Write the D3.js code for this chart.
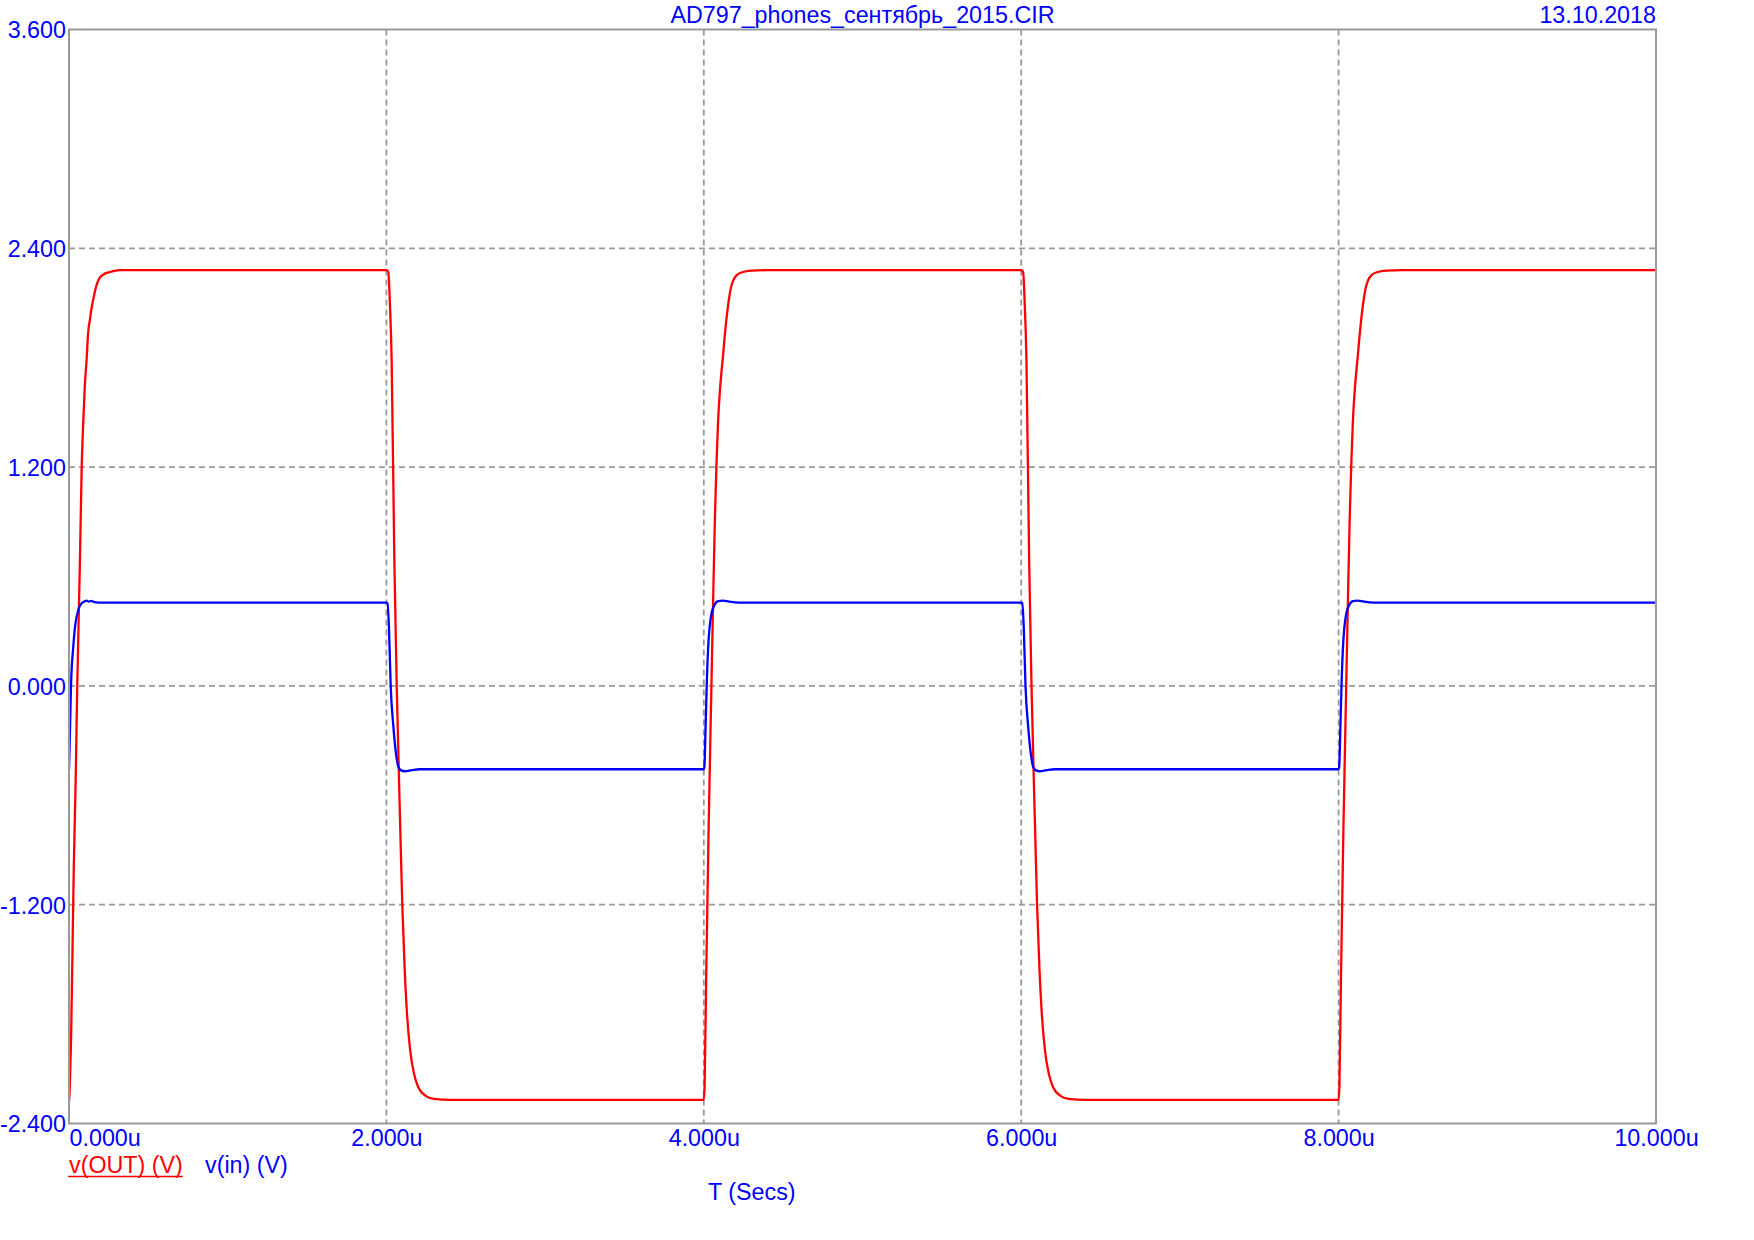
<!DOCTYPE html>
<html>
<head>
<meta charset="utf-8">
<script src="https://cdn.jsdelivr.net/npm/d3@7"></script>
<style>
  html, body { margin: 0; padding: 0; background: #fff; }
  svg { display: block; }
  text { font-family: "Liberation Sans", Arial, Helvetica, sans-serif; }
</style>
</head>
<body>
<svg id="chart" width="1754" height="1240"></svg>
<script>
// ---------- DATA ----------
const titleText = "AD797_phones_сентябрь_2015.CIR";
const dateText = "13.10.2018";
const xAxisTitle = "T (Secs)";
const seriesNames = ["v(OUT) (V)", "v(in) (V)"];
const seriesColors = ["#ff0000", "#0000ff"];

const xTicks = [0, 2, 4, 6, 8, 10];
const xTickLabels = ["0.000u", "2.000u", "4.000u", "6.000u", "8.000u", "10.000u"];
const yTicks = [-2.4, -1.2, 0, 1.2, 2.4, 3.6];
const yTickLabels = ["-2.400", "-1.200", "0.000", "1.200", "2.400", "3.600"];

// v(OUT): time in microseconds, voltage in volts
const outTime = [
  0, 0.005, 0.013, 0.03, 0.042, 0.052, 0.069, 0.08, 0.09, 0.1, 0.111, 0.12, 0.132, 0.142, 0.153, 0.165, 0.178, 0.195, 0.214, 0.26, 0.32,
  2.0, 2.012, 2.022, 2.033, 2.05, 2.065, 2.086, 2.10, 2.115, 2.13, 2.15, 2.175, 2.20, 2.25, 2.30, 2.40,
  4.0, 4.005, 4.015, 4.03, 4.048, 4.06, 4.07, 4.08, 4.09, 4.10, 4.11, 4.119, 4.13, 4.14, 4.155, 4.17, 4.186, 4.21, 4.247, 4.30, 4.40,
  6.0, 6.012, 6.022, 6.033, 6.05, 6.065, 6.086, 6.10, 6.115, 6.13, 6.15, 6.175, 6.20, 6.25, 6.30, 6.40,
  8.0, 8.005, 8.015, 8.03, 8.048, 8.06, 8.07, 8.08, 8.09, 8.10, 8.11, 8.119, 8.13, 8.14, 8.155, 8.17, 8.186, 8.21, 8.247, 8.30, 8.40,
  10.0
];
const outVolt = [
  -2.28, -2.20, -1.94, -1.00, -0.52, 0.00, 0.69, 1.20, 1.45, 1.65, 1.79, 1.93, 2.01, 2.07, 2.12, 2.17, 2.21, 2.24, 2.255, 2.27, 2.28,
  2.28, 2.27, 2.10, 1.79, 0.69, 0.00, -0.735, -1.20, -1.55, -1.80, -2.00, -2.13, -2.20, -2.25, -2.265, -2.27,
  -2.27, -2.20, -1.60, -0.80, 0.00, 0.52, 0.92, 1.22, 1.45, 1.60, 1.71, 1.79, 1.90, 1.99, 2.10, 2.18, 2.225, 2.255, 2.27, 2.277, 2.28,
  2.28, 2.27, 2.10, 1.79, 0.69, 0.00, -0.735, -1.20, -1.55, -1.80, -2.00, -2.13, -2.20, -2.25, -2.265, -2.27,
  -2.27, -2.20, -1.60, -0.80, 0.00, 0.52, 0.92, 1.22, 1.45, 1.60, 1.71, 1.79, 1.90, 1.99, 2.10, 2.18, 2.225, 2.255, 2.27, 2.277, 2.28,
  2.28
];

// v(in)
const inTime = [
  0, 0.006, 0.0126, 0.027, 0.038, 0.059, 0.08, 0.095, 0.11, 0.125, 0.14, 0.16, 0.21,
  2.0, 2.006, 2.016, 2.027, 2.044, 2.06, 2.075, 2.09, 2.117, 2.16, 2.21,
  4.0, 4.004, 4.012, 4.02, 4.03, 4.045, 4.065, 4.09, 4.12, 4.16, 4.22,
  6.0, 6.006, 6.016, 6.027, 6.044, 6.06, 6.075, 6.09, 6.117, 6.16, 6.21,
  8.0, 8.004, 8.012, 8.02, 8.03, 8.045, 8.065, 8.09, 8.12, 8.16, 8.22,
  10.0
];
const inVolt = [
  -0.46, -0.25, 0.00, 0.216, 0.325, 0.417, 0.454, 0.462, 0.468, 0.462, 0.466, 0.460, 0.457,
  0.457, 0.455, 0.325, 0.00, -0.223, -0.368, -0.443, -0.462, -0.468, -0.462, -0.457,
  -0.457, -0.44, -0.20, 0.05, 0.25, 0.38, 0.44, 0.465, 0.468, 0.462, 0.457,
  0.457, 0.455, 0.325, 0.00, -0.223, -0.368, -0.443, -0.462, -0.468, -0.462, -0.457,
  -0.457, -0.44, -0.20, 0.05, 0.25, 0.38, 0.44, 0.465, 0.468, 0.462, 0.457,
  0.457
];

// ---------- LAYOUT ----------
const W = 1754, H = 1240;
const L = 69, R = 1656, T = 29.5, B = 1123.5;
const FS = 23.3;
const gridColor = "#999999";
const textBlue = "#0000ff";

const svg = d3.select("#chart");
svg.append("rect").attr("width", W).attr("height", H).attr("fill", "#fff");

const x = d3.scaleLinear().domain([0, 10]).range([L, R]);
const y = d3.scaleLinear().domain([-2.4, 3.6]).range([B, T]);

// grid lines
const grid = svg.append("g");
grid.selectAll("line.gy").data(yTicks.filter(v => v > -2.4 && v < 3.6)).join("line")
  .attr("x1", L).attr("x2", R)
  .attr("y1", d => y(d)).attr("y2", d => y(d))
  .attr("stroke", gridColor).attr("stroke-width", 1.8).attr("stroke-dasharray", "6,4");
grid.selectAll("line.gx").data(xTicks.filter(v => v > 0 && v < 10)).join("line")
  .attr("y1", T).attr("y2", B)
  .attr("x1", d => x(d)).attr("x2", d => x(d))
  .attr("stroke", gridColor).attr("stroke-width", 1.8).attr("stroke-dasharray", "6,4");

// clip
svg.append("clipPath").attr("id", "plotclip").append("rect")
  .attr("x", L).attr("y", T).attr("width", R - L).attr("height", B - T);

const line = d3.line().x(d => x(d[0])).y(d => y(d[1])).curve(d3.curveMonotoneX);
const outData = outTime.map((t, i) => [t, outVolt[i]]);
const inData = inTime.map((t, i) => [t, inVolt[i]]);

const plot = svg.append("g").attr("clip-path", "url(#plotclip)");
plot.append("path").datum(outData).attr("d", line)
  .attr("fill", "none").attr("stroke", seriesColors[0]).attr("stroke-width", 2.3).attr("stroke-linejoin", "round");
plot.append("path").datum(inData).attr("d", line)
  .attr("fill", "none").attr("stroke", seriesColors[1]).attr("stroke-width", 2.3).attr("stroke-linejoin", "round");

// frame
svg.append("rect").attr("x", L).attr("y", T).attr("width", R - L).attr("height", B - T)
  .attr("fill", "none").attr("stroke", gridColor).attr("stroke-width", 2);

// y axis labels
const yAxis = d3.axisLeft(y).tickValues(yTicks).tickSize(0).tickPadding(3)
  .tickFormat((d, i) => yTickLabels[i]);
const gy = svg.append("g").attr("transform", `translate(${L},0)`).call(yAxis);
gy.select(".domain").remove();
gy.selectAll("text").attr("fill", textBlue).attr("font-size", FS)
  .attr("font-family", "Liberation Sans, Arial, sans-serif")
  .attr("dy", "0.36em");

// x axis labels
const xAxis = d3.axisBottom(x).tickValues(xTicks).tickSize(0).tickPadding(6)
  .tickFormat((d, i) => xTickLabels[i]);
const gx = svg.append("g").attr("transform", `translate(0,${B})`).call(xAxis);
gx.select(".domain").remove();
gx.selectAll("text").attr("fill", textBlue).attr("font-size", FS)
  .attr("font-family", "Liberation Sans, Arial, sans-serif")
  .attr("dy", "0.71em")
  .attr("text-anchor", d => d === 0 ? "start" : "middle");

// title & date
svg.append("text").attr("x", (L + R) / 2).attr("y", 23).attr("text-anchor", "middle")
  .attr("fill", textBlue).attr("font-size", FS).text(titleText);
svg.append("text").attr("x", R).attr("y", 23).attr("text-anchor", "end")
  .attr("fill", textBlue).attr("font-size", FS).text(dateText);

// legend
const leg0 = svg.append("text").attr("x", L).attr("y", 1173)
  .attr("fill", seriesColors[0]).attr("font-size", FS).text(seriesNames[0]);
const w0 = leg0.node().getComputedTextLength();
svg.append("line").attr("x1", L - 1).attr("x2", L + w0).attr("y1", 1176.5).attr("y2", 1176.5)
  .attr("stroke", seriesColors[0]).attr("stroke-width", 1.5);
svg.append("text").attr("x", 205).attr("y", 1173)
  .attr("fill", textBlue).attr("font-size", FS).text(seriesNames[1]);

// x axis title
svg.append("text").attr("x", 708).attr("y", 1200)
  .attr("fill", textBlue).attr("font-size", FS).text(xAxisTitle);
</script>
</body>
</html>
